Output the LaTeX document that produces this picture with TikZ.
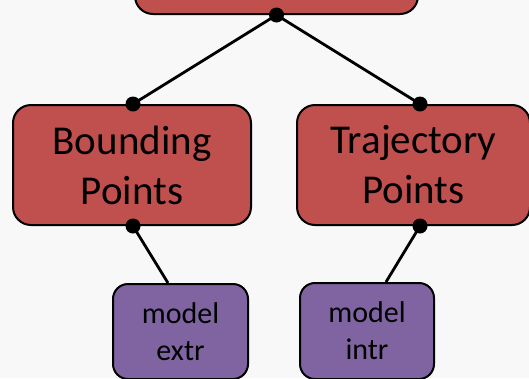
\documentclass[tikz,border=0pt]{standalone}
\usepackage{fontspec}
\setmainfont{Carlito}
\usepackage{tikz}
\usetikzlibrary{positioning}
\definecolor{pointred}{RGB}{192, 80, 77}
\definecolor{modelpurple}{RGB}{128, 100, 162}
\definecolor{paper}{RGB}{248, 248, 248}

\begin{document}
\begin{tikzpicture}[x=1pt, y=-1pt,
    pointbox/.style={draw=black, fill=pointred, line width=2pt, rounded corners=18pt,
        align=center, inner sep=0pt, font=\fontsize{41}{50}\selectfont},
    modelbox/.style={draw=black, fill=modelpurple, line width=2pt, rounded corners=15pt,
        align=center, inner sep=0pt, font=\fontsize{30}{37}\selectfont},
    link/.style={draw=black, line width=2.8pt}]
    % Background and frame
    \fill[paper] (0,0) rectangle (529,378);
    \useasboundingbox (0,0) rectangle (529,378);
    % Top box, cut by the frame
    \node[pointbox, minimum width=283pt, minimum height=60pt] (root) at (276.5,-16) {};
    % Point boxes
    \node[pointbox, minimum width=238pt, minimum height=120pt] (bounding) at (132,165) {Bounding\\Points};
    \node[pointbox, minimum width=233pt, minimum height=120pt] (trajectory) at (413.5,165) {Trajectory\\Points};
    % Model boxes
    \node[modelbox, minimum width=135pt, minimum height=95pt] (extr) at (180.5,331.5) {model\\extr};
    \node[modelbox, minimum width=134pt, minimum height=96pt] (intr) at (367,331) {model\\intr};
    % Connection sites
    \coordinate (rootdot) at (root.south);
    \coordinate (bdtop) at ([xshift=1pt]bounding.north);
    \coordinate (bdbot) at ([xshift=1pt]bounding.south);
    \coordinate (trtop) at ([xshift=6.5pt]trajectory.north);
    \coordinate (trbot) at ([xshift=6.5pt]trajectory.south);
    \coordinate (extrin) at ([xshift=-12.5pt]extr.north);
    \coordinate (intrin) at ([xshift=19pt]intr.north);
    % Connectors
    \draw[link] (rootdot) -- (bdtop);
    \draw[link] (rootdot) -- (trtop);
    \draw[link] (bdbot) -- (extrin);
    \draw[link] (trbot) -- (intrin);
    % Dots
    \foreach \p in {rootdot, bdtop, bdbot, trtop, trbot} {
        \fill[black] (\p) circle (7.5pt);
    }
\end{tikzpicture}
\end{document}
